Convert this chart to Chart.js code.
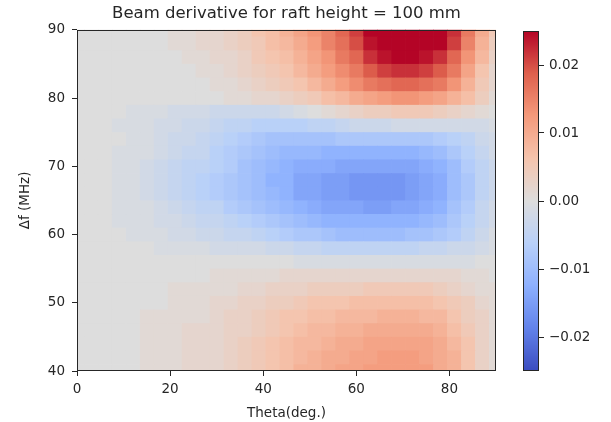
<!DOCTYPE html>
<html>
<head>
<meta charset="utf-8">
<script src="https://cdn.jsdelivr.net/npm/chart.js@4"></script>
<style>
  html, body { margin: 0; padding: 0; background: #fff; }
  #wrap { position: relative; width: 611px; height: 422px; }
  #wrap canvas { position: absolute; left: 0; top: 0; }
</style>
</head>
<body>
<div id="wrap">
  <canvas id="heat" width="611" height="422"></canvas>
  <canvas id="cbar" width="611" height="422"></canvas>
</div>
<script>
const thetaDeg = [0, 3, 6, 9, 12, 15, 18, 21, 24, 27, 30, 33, 36, 39, 42, 45, 48, 51, 54, 57, 60, 63, 66, 69, 72, 75, 78, 81, 84, 87, 90];
const freqMHz = [90, 88, 86, 84, 82, 80, 78, 76, 74, 72, 70, 68, 66, 64, 62, 60, 58, 56, 54, 52, 50, 48, 46, 44, 42, 40];

// beam derivative in units of 1e-3, one row per freqMHz entry, one column per thetaDeg entry
const derivMilli = [
  [0, 0, 0, 0, 0, 0, 0, 1, 1, 2, 2, 3, 4, 6, 7, 9, 11, 13, 15, 18, 21, 25, 27, 28, 28, 27, 26, 22, 16, 10, 5],
  [0, 0, 0, 0, 0, 0, 0, 1, 1, 2, 2, 3, 4, 5, 7, 8, 10, 12, 15, 17, 20, 24, 27, 28, 28, 27, 25, 21, 15, 9, 4],
  [0, 0, 0, 0, 0, 0, 0, 0, 1, 1, 2, 2, 3, 5, 6, 7, 9, 11, 13, 16, 18, 22, 24, 25, 25, 24, 22, 18, 13, 8, 3],
  [0, 0, 0, 0, 0, 0, 0, 0, 0, 1, 1, 2, 3, 4, 5, 6, 8, 10, 12, 14, 16, 19, 21, 22, 22, 21, 19, 16, 11, 6, 2],
  [0, 0, 0, 0, 0, 0, 0, 0, 0, 0, 1, 1, 2, 3, 4, 5, 6, 8, 10, 12, 14, 16, 17, 18, 18, 17, 16, 13, 9, 5, 2],
  [0, 0, 0, 0, 0, 0, 0, 0, 0, 0, 0, 1, 1, 2, 2, 3, 4, 5, 7, 8, 10, 11, 12, 13, 13, 12, 11, 9, 7, 4, 1],
  [0, 0, 0, 0, -1, -1, -1, -2, -2, -2, -3, -3, -3, -3, -3, -2, -1, 0, 1, 2, 3, 4, 4, 5, 5, 5, 4, 3, 2, 1, 0],
  [0, 0, 0, -1, -1, -1, -2, -2, -3, -3, -4, -5, -5, -6, -6, -6, -6, -5, -5, -4, -3, -3, -3, -2, -2, -2, -2, -2, -2, -2, -1],
  [0, 0, 0, 0, -1, -1, -2, -3, -3, -4, -5, -6, -7, -8, -9, -9, -9, -9, -9, -8, -8, -8, -8, -8, -8, -8, -7, -6, -5, -3, -2],
  [0, 0, 0, -1, -1, -1, -2, -3, -4, -4, -6, -7, -8, -9, -10, -11, -11, -11, -12, -12, -12, -12, -12, -12, -12, -11, -10, -8, -6, -4, -2],
  [0, 0, 0, -1, -1, -2, -3, -4, -5, -5, -6, -7, -9, -10, -11, -12, -13, -13, -13, -14, -14, -14, -14, -14, -14, -13, -12, -10, -7, -5, -3],
  [0, 0, 0, -1, -1, -2, -3, -4, -5, -6, -7, -8, -9, -10, -12, -12, -14, -14, -15, -15, -16, -16, -16, -16, -15, -14, -13, -10, -8, -5, -3],
  [0, 0, 0, -1, -1, -2, -3, -4, -5, -6, -7, -8, -9, -10, -11, -12, -14, -14, -15, -15, -16, -16, -16, -16, -15, -14, -13, -10, -8, -5, -3],
  [0, 0, 0, -1, -1, -1, -2, -3, -4, -5, -5, -7, -8, -9, -10, -11, -12, -13, -14, -14, -14, -15, -15, -14, -14, -13, -12, -9, -7, -4, -2],
  [0, 0, 0, -1, -1, -1, -2, -2, -3, -4, -4, -5, -6, -7, -8, -9, -10, -11, -12, -12, -12, -12, -12, -12, -12, -11, -10, -8, -6, -4, -2],
  [0, 0, 0, 0, -1, -1, -1, -2, -2, -3, -3, -4, -4, -5, -6, -7, -8, -8, -9, -10, -10, -10, -10, -10, -9, -9, -8, -7, -5, -3, -1],
  [0, 0, 0, 0, 0, 0, -1, -1, -1, -1, -2, -2, -2, -2, -3, -3, -4, -4, -5, -5, -5, -5, -5, -5, -5, -4, -4, -3, -3, -2, -1],
  [0, 0, 0, 0, 0, 0, 0, 0, 0, 0, 0, 0, 0, 0, 0, 0, -1, -1, -1, -1, -1, -1, -1, -1, -1, -1, -1, -1, -1, 0, 0],
  [0, 0, 0, 0, 0, 0, 0, 0, 0, 0, 1, 1, 1, 1, 1, 2, 2, 2, 2, 2, 2, 2, 2, 2, 2, 2, 2, 2, 1, 1, 0],
  [0, 0, 0, 0, 0, 0, 0, 1, 1, 1, 1, 1, 2, 2, 3, 3, 3, 4, 4, 4, 4, 5, 5, 5, 5, 5, 4, 3, 2, 1, 1],
  [0, 0, 0, 0, 0, 0, 0, 1, 1, 1, 2, 2, 3, 3, 4, 4, 5, 6, 6, 6, 7, 7, 7, 7, 7, 7, 6, 5, 4, 2, 1],
  [0, 0, 0, 0, 0, 1, 1, 1, 1, 1, 2, 3, 3, 4, 5, 6, 6, 7, 7, 8, 8, 8, 9, 9, 9, 8, 8, 6, 4, 3, 1],
  [0, 0, 0, 0, 0, 1, 1, 1, 2, 2, 2, 3, 3, 4, 5, 6, 7, 8, 8, 9, 9, 10, 10, 10, 10, 10, 9, 7, 5, 3, 1],
  [0, 0, 0, 0, 0, 1, 1, 1, 2, 2, 2, 3, 4, 5, 6, 7, 8, 8, 9, 10, 10, 11, 11, 11, 11, 11, 10, 8, 6, 3, 1],
  [0, 0, 0, 0, 0, 1, 1, 1, 2, 2, 2, 3, 4, 5, 6, 7, 8, 9, 10, 10, 11, 11, 12, 12, 12, 11, 10, 9, 6, 3, 1],
  [0, 0, 0, 0, 0, 1, 1, 1, 2, 2, 2, 3, 4, 5, 6, 7, 9, 9, 10, 11, 11, 12, 12, 12, 12, 12, 10, 9, 6, 3, 1]
];

const xTicks = [0, 20, 40, 60, 80];
const yTicks = [40, 50, 60, 70, 80, 90];
const cbarTicks = [-0.02, -0.01, 0, 0.01, 0.02];
const vMin = -0.025;
const vMax = 0.025;

const FONT = "'DejaVu Sans', sans-serif";
const INK = "#262626";

// coolwarm colormap anchors
const cmapStops = [
  [59, 76, 192], [98, 130, 234], [141, 176, 254], [184, 208, 249],
  [221, 221, 221], [245, 196, 173], [244, 154, 123], [222, 96, 77], [180, 4, 38]
];

function coolwarm(v) {
  let t = (v - vMin) / (vMax - vMin);
  t = Math.max(0, Math.min(1, t));
  const pos = t * (cmapStops.length - 1);
  const i = Math.min(Math.floor(pos), cmapStops.length - 2);
  const f = pos - i;
  const a = cmapStops[i], b = cmapStops[i + 1];
  const c = a.map((ch, k) => Math.round(ch + (b[k] - ch) * f));
  return `rgb(${c[0]},${c[1]},${c[2]})`;
}

const cells = [];
freqMHz.forEach((f, j) => {
  thetaDeg.forEach((t, i) => {
    cells.push({ x: t, y: f, v: derivMilli[j][i] / 1000 });
  });
});

const halfDx = (thetaDeg[1] - thetaDeg[0]) / 2;
const halfDy = (freqMHz[0] - freqMHz[1]) / 2;

function drawFrame(ctx, a) {
  ctx.save();
  ctx.strokeStyle = INK;
  ctx.lineWidth = 1;
  ctx.strokeRect(Math.round(a.left) + 0.5, Math.round(a.top) + 0.5,
    Math.round(a.right - a.left) - 1, Math.round(a.bottom - a.top) - 1);
  ctx.restore();
}

const heatPlugin = {
  id: "heatCells",
  beforeDatasetsDraw(chart) {
    const { ctx, chartArea: a, scales } = chart;
    ctx.save();
    ctx.beginPath();
    ctx.rect(a.left, a.top, a.right - a.left, a.bottom - a.top);
    ctx.clip();
    chart.data.datasets[0].data.forEach(p => {
      const x0 = scales.x.getPixelForValue(p.x - halfDx);
      const x1 = scales.x.getPixelForValue(p.x + halfDx);
      const y0 = scales.y.getPixelForValue(p.y + halfDy);
      const y1 = scales.y.getPixelForValue(p.y - halfDy);
      ctx.fillStyle = coolwarm(p.v);
      ctx.fillRect(x0, y0, x1 - x0 + 0.7, y1 - y0 + 0.7);
    });
    ctx.restore();
  },
  afterDraw(chart) {
    drawFrame(chart.ctx, chart.chartArea);
  }
};

const tickFont = { family: FONT, size: 13.5 };

new Chart(document.getElementById("heat"), {
  type: "scatter",
  data: {
    datasets: [{ data: cells, pointRadius: 0, pointHoverRadius: 0 }]
  },
  options: {
    responsive: false,
    animation: false,
    devicePixelRatio: 1,
    layout: { padding: { left: 0, right: 115, top: 0, bottom: 0 } },
    plugins: {
      legend: { display: false },
      tooltip: { enabled: false },
      title: {
        display: true,
        fullSize: false,
        text: "Beam derivative for raft height = 100 mm",
        color: INK,
        font: { family: FONT, size: 16.5, weight: "normal" },
        padding: { top: 4, bottom: 6 }
      }
    },
    scales: {
      x: {
        type: "linear",
        min: 0,
        max: 90,
        afterBuildTicks: s => { s.ticks = xTicks.map(v => ({ value: v })); },
        afterFit: s => { s.height = 51; },
        border: { display: false },
        grid: { drawOnChartArea: false, drawTicks: true, tickLength: 5, tickColor: INK },
        ticks: { color: INK, font: tickFont, padding: 5, maxRotation: 0 },
        title: { display: true, text: "Theta(deg.)", color: INK, font: tickFont, padding: { top: 2, bottom: 0 } }
      },
      y: {
        type: "linear",
        min: 40,
        max: 90,
        afterBuildTicks: s => { s.ticks = yTicks.map(v => ({ value: v })); },
        afterFit: s => { s.width = 77; },
        border: { display: false },
        grid: { drawOnChartArea: false, drawTicks: true, tickLength: 5, tickColor: INK },
        ticks: { color: INK, font: tickFont, padding: 7 },
        title: { display: true, text: "Δf (MHz)", color: INK, font: tickFont, padding: { top: 17, bottom: 0 } }
      }
    }
  },
  plugins: [heatPlugin]
});

// colorbar
const cbarPlugin = {
  id: "cbarStrip",
  beforeDatasetsDraw(chart) {
    const { ctx, chartArea: a, scales } = chart;
    ctx.save();
    for (let py = Math.floor(a.top); py < a.bottom; py++) {
      ctx.fillStyle = coolwarm(scales.y.getValueForPixel(py + 0.5));
      ctx.fillRect(a.left, py, a.right - a.left, 1);
    }
    ctx.restore();
  },
  afterDraw(chart) {
    drawFrame(chart.ctx, chart.chartArea);
  }
};

new Chart(document.getElementById("cbar"), {
  type: "scatter",
  data: { datasets: [{ data: [], pointRadius: 0 }] },
  options: {
    responsive: false,
    animation: false,
    devicePixelRatio: 1,
    layout: { padding: { left: 523, right: 0, top: 31, bottom: 51 } },
    plugins: { legend: { display: false }, tooltip: { enabled: false }, title: { display: false } },
    scales: {
      x: { display: false, min: 0, max: 1 },
      y: {
        type: "linear",
        position: "right",
        min: vMin,
        max: vMax,
        afterBuildTicks: s => { s.ticks = cbarTicks.map(v => ({ value: v })); },
        afterFit: s => { s.width = 72; },
        border: { display: false },
        grid: { drawOnChartArea: false, drawTicks: true, tickLength: 5, tickColor: INK },
        ticks: {
          color: INK,
          font: tickFont,
          padding: 5,
          callback: v => v.toFixed(2).replace("-", "\u2212")
        }
      }
    }
  },
  plugins: [cbarPlugin]
});
</script>
</body>
</html>
